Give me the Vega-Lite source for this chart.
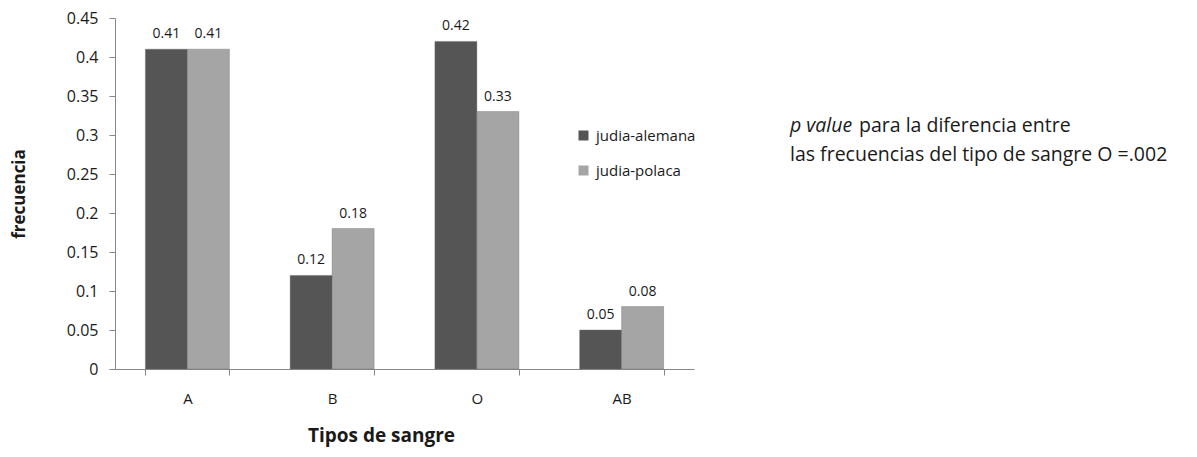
{
  "$schema": "https://vega.github.io/schema/vega-lite/v6.json",
  "background": "white",
  "padding": {"left": 10, "top": 10, "right": 5, "bottom": 5},
  "config": {"view": {"stroke": null}, "font": "Open Sans", "text": {"color": "#1a1a1a"}},
  "spacing": 96,
  "hconcat": [
    {
      "width": 579,
      "height": 351,
      "data": {"values": [
        {"tipo": "A", "grupo": "judia-alemana", "frecuencia": 0.41},
        {"tipo": "A", "grupo": "judia-polaca", "frecuencia": 0.41},
        {"tipo": "B", "grupo": "judia-alemana", "frecuencia": 0.12},
        {"tipo": "B", "grupo": "judia-polaca", "frecuencia": 0.18},
        {"tipo": "O", "grupo": "judia-alemana", "frecuencia": 0.42},
        {"tipo": "O", "grupo": "judia-polaca", "frecuencia": 0.33},
        {"tipo": "AB", "grupo": "judia-alemana", "frecuencia": 0.05},
        {"tipo": "AB", "grupo": "judia-polaca", "frecuencia": 0.08}
      ]},
      "encoding": {
        "x": {
          "field": "tipo", "type": "nominal", "sort": ["A", "B", "O", "AB"],
          "scale": {"paddingInner": 0.42, "paddingOuter": 0.21},
          "title": "Tipos de sangre",
          "axis": {
            "labelAngle": 0, "tickBand": "extent", "domainColor": "#888888", "tickColor": "#888888",
            "tickSize": 6, "labelPadding": 16, "labelFontSize": 15, "labelColor": "#1a1a1a",
            "titleFontSize": 19, "titleFontWeight": "bold", "titlePadding": 20, "titleColor": "#1a1a1a",
            "titleX": 266
          }
        },
        "xOffset": {"field": "grupo", "type": "nominal", "sort": ["judia-alemana", "judia-polaca"], "scale": {"paddingInner": 0, "paddingOuter": 0}},
        "y": {
          "field": "frecuencia", "type": "quantitative",
          "scale": {"domain": [0, 0.45], "nice": false},
          "title": "frecuencia",
          "axis": {
            "values": [0, 0.05, 0.1, 0.15, 0.2, 0.25, 0.3, 0.35, 0.4, 0.45],
            "format": "~g", "grid": false, "domainColor": "#888888", "tickColor": "#888888",
            "tickSize": 6, "labelPadding": 11, "labelFontSize": 16, "labelColor": "#1a1a1a",
            "titleFontSize": 17, "titleFontWeight": "bold", "titlePadding": 38, "titleColor": "#1a1a1a"
          }
        }
      },
      "layer": [
        {
          "mark": {"type": "bar", "stroke": "#6a6a6a", "strokeWidth": 0.4},
          "encoding": {
            "color": {
              "field": "grupo", "type": "nominal",
              "scale": {"domain": ["judia-alemana", "judia-polaca"], "range": ["#555555", "#a5a5a5"]},
              "legend": {
                "orient": "none", "legendX": 461, "legendY": 110, "title": null,
                "symbolType": "square", "symbolSize": 100, "symbolStrokeWidth": 0,
                "labelFontSize": 15, "labelColor": "#1a1a1a", "rowPadding": 19, "labelOffset": 5
              }
            }
          }
        },
        {
          "mark": {"type": "text", "baseline": "alphabetic", "dy": -11, "fontSize": 14},
          "encoding": {"text": {"field": "frecuencia", "type": "quantitative", "format": ".2f"}}
        }
      ]
    },
    {
      "width": 400,
      "height": 351,
      "data": {"values": [
        {"linea": "1", "parte": "p", "texto": "p value"},
        {"linea": "1", "parte": "resto", "texto": "para la diferencia entre"},
        {"linea": "2", "parte": "linea2", "texto": "las frecuencias del tipo de sangre O =.002"}
      ]},
      "encoding": {
        "x": {"datum": 0, "type": "quantitative", "scale": {"domain": [0, 1]}, "axis": null},
        "y": {"field": "linea", "type": "ordinal", "scale": {"type": "point", "range": [114, 143], "padding": 0}, "axis": null},
        "text": {"field": "texto"}
      },
      "layer": [
        {
          "transform": [{"filter": "datum.parte === 'p'"}],
          "mark": {"type": "text", "align": "left", "baseline": "alphabetic", "fontSize": 19.5, "fontStyle": "italic"}
        },
        {
          "transform": [{"filter": "datum.parte === 'resto'"}],
          "mark": {"type": "text", "align": "left", "baseline": "alphabetic", "fontSize": 19.5, "dx": 69}
        },
        {
          "transform": [{"filter": "datum.parte === 'linea2'"}],
          "mark": {"type": "text", "align": "left", "baseline": "alphabetic", "fontSize": 19.5}
        }
      ]
    }
  ]
}
